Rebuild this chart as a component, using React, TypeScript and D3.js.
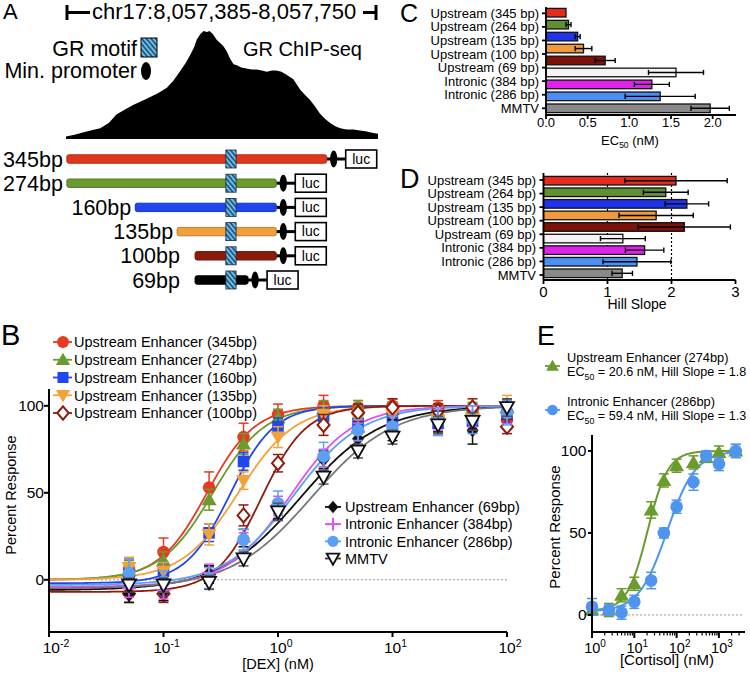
import React from "react";
import * as d3 from "d3";

const FONT = "'Liberation Sans', Arial, Helvetica, sans-serif";

// ---------- Panel A data ----------
const regionLabel = "chr17:8,057,385-8,057,750";
const regionLength = 365;
const chipPos = [0, 10, 24, 40, 50, 59, 70, 79, 90, 98, 108, 118, 126, 133, 140, 145, 150, 153, 157, 161, 165, 168, 172, 176, 180, 184, 188, 192, 196, 200, 205, 211, 217, 223, 229, 235, 241, 246, 252, 258, 262, 266, 270, 274, 280, 285, 291, 297, 303, 309, 315, 321, 328, 336, 344, 352, 358, 365];
const chipSignal = [1.5, 3, 6, 9, 14, 22, 27, 31, 35, 38, 42, 47, 54, 62, 70, 77, 85, 92, 97, 100, 99, 100, 97, 92, 89, 86, 81, 74, 69, 68, 66, 65, 64, 64, 63, 62, 63, 63, 62, 59, 57, 55, 50, 45, 40, 36, 30, 23, 18, 14, 11, 9, 8, 8, 7, 6, 5, 4];
const constructNames = ["345bp", "274bp", "160bp", "135bp", "100bp", "69bp"];
const constructStart = [1, 1, 81, 130, 151, 151];
const constructEnd = [305, 246, 246, 246, 246, 213];
const constructColors = ["#e2361c", "#6c9a2e", "#1f45ee", "#f0a03a", "#8a1c0c", "#000000"];
const motifRange = [187, 199];

// ---------- Panel B data ----------
const doseB = [0.05, 0.1, 0.25, 0.5, 1, 2.5, 5, 10, 25, 50, 100];
const namesB = ["Upstream Enhancer (345bp)", "Upstream Enhancer (274bp)", "Upstream Enhancer (160bp)", "Upstream Enhancer (135bp)", "Upstream Enhancer (100bp)", "Upstream Enhancer (69bp)", "Intronic Enhancer (384bp)", "Intronic Enhancer (286bp)", "MMTV"];
const colorsB = ["#e63a22", "#6a9b2c", "#2246ee", "#f2a23a", "#8e1b0e", "#111111", "#dd55ee", "#5aa0f5", "#777777"];
const markersB = ["circle", "triUp", "square", "triDown", "diamondOpen", "diamond", "plus", "circle", "triDownOpen"];
const b345 = [6, 16, 53, 82, 95, 100, 99, 100, 99, 97, 92];
const b274 = [5, 11, 46, 78, 93, 98, 99, 98, 96, 98, 99];
const b160 = [3, 5, 27, 68, 88, 94, 90, 93, 90, 91, 95];
const b135 = [7, 5, 26, 57, 82, 95, 93, 95, 92, 93, 99];
const b100 = [-8, -8, 3, 37, 67, 89, 96, 99, 97, 99, 88];
const b69 = [-8, -7, 3, 24, 40, 69, 81, 86, 91, 86, 97];
const bI384 = [-5, -6, 4, 22, 43, 70, 85, 89, 92, 94, 96];
const bI286 = [4, -1, 1, 23, 44, 71, 86, 88, 91, 92, 96];
const bMMTV = [-3, -3, -1.5, 12, 39, 59, 74, 82, 89, 91, 99];
const e345 = [6, 8, 9, 8, 6, 6, 4, 4, 4, 4, 5];
const e274 = [6, 5, 6, 6, 5, 5, 4, 4, 5, 4, 4];
const e160 = [5, 5, 5, 5, 5, 5, 6, 6, 7, 6, 6];
const e135 = [6, 5, 6, 5, 6, 5, 5, 5, 7, 8, 7];
const e100 = [5, 5, 5, 6, 5, 6, 5, 5, 4, 5, 4];
const e69 = [5, 5, 5, 5, 5, 5, 5, 6, 6, 8, 7];
const eI384 = [5, 5, 5, 5, 5, 5, 5, 5, 6, 6, 6];
const eI286 = [8, 6, 6, 6, 7, 8, 6, 6, 8, 8, 7];
const eMMTV = [4, 4, 4, 4, 5, 4, 4, 4, 5, 5, 5];
const bottomB = [0, 0, -2, 0, -7, -6, -4, -3, -5];
const topB = 100;

// ---------- Panel C / D data ----------
const barLabels = ["Upstream (345 bp)", "Upstream (264 bp)", "Upstream (135 bp)", "Upstream (100 bp)", "Upstream (69 bp)", "Intronic (384 bp)", "Intronic (286 bp)", "MMTV"];
const barColors = ["#e52b1c", "#5f9132", "#1f34ea", "#f09a3c", "#7d1208", "#f4f4f4", "#e023ea", "#4b8ff2", "#8a8a8a"];
const ec50 = [0.24, 0.27, 0.38, 0.45, 0.71, 1.56, 1.27, 1.37, 1.97];
const ec50Err = [0.0, 0.03, 0.03, 0.1, 0.12, 0.33, 0.21, 0.42, 0.23];
const hill = [2.07, 1.91, 2.24, 1.76, 2.2, 1.24, 1.58, 1.46, 1.23];
const hillErr = [0.8, 0.35, 0.34, 0.58, 0.72, 0.35, 0.3, 0.53, 0.16];
const ec50Ticks = [0, 0.5, 1, 1.5, 2];
const hillTicks = [0, 1, 2, 3];
const hillRefLines = [1, 2];

// ---------- Panel E data ----------
const doseE = [1, 2.5, 5, 10, 25, 50, 100, 250, 500, 1000, 2500];
const eUp274 = [3, 3, 12, 19, 64, 82, 91, 93, 96, 99, 100];
const eUp274Err = [3, 4, 4, 4, 5, 4, 4, 4, 3, 4, 4];
const eIn286 = [5, 3, 1.4, 8, 21, 50, 66, 81, 97, 92, 100];
const eIn286Err = [5, 3, 4, 4, 5, 3, 4, 5, 3, 4, 4];
const namesE = ["Upstream Enhancer (274bp)", "Intronic Enhancer (286bp)"];
const colorsE = ["#6a9b2c", "#4f95f0"];
const ec50E = [20.6, 59.4];
const hillE = [1.8, 1.3];
const bottomE = [2.5, 2];

const hillFn = (x: number, bottom: number, top: number, ec: number, h: number) =>
  bottom + (top - bottom) / (1 + Math.pow(ec / x, h));

function Marker({ type, color, x, y, s = 1 }: any) {
  const k = s;
  switch (type) {
    case "circle":
      return <circle cx={x} cy={y} r={6.3 * k} fill={color} />;
    case "triUp":
      return <path d={`M${x},${y - 7.5 * k}L${x + 7.5 * k},${y + 5.5 * k}L${x - 7.5 * k},${y + 5.5 * k}Z`} fill={color} />;
    case "square":
      return <rect x={x - 5.8 * k} y={y - 5.8 * k} width={11.6 * k} height={11.6 * k} fill={color} />;
    case "triDown":
      return <path d={`M${x},${y + 7.5 * k}L${x + 7.5 * k},${y - 5.5 * k}L${x - 7.5 * k},${y - 5.5 * k}Z`} fill={color} />;
    case "diamondOpen":
      return <path d={`M${x},${y - 7 * k}L${x + 6 * k},${y}L${x},${y + 7 * k}L${x - 6 * k},${y}Z`} fill="#fff" stroke={color} strokeWidth={2} />;
    case "diamond":
      return <path d={`M${x},${y - 7 * k}L${x + 6 * k},${y}L${x},${y + 7 * k}L${x - 6 * k},${y}Z`} fill={color} />;
    case "plus":
      return (
        <g stroke={color} strokeWidth={2}>
          <line x1={x - 7 * k} x2={x + 7 * k} y1={y} y2={y} />
          <line x1={x} x2={x} y1={y - 7 * k} y2={y + 7 * k} />
        </g>
      );
    case "triDownOpen":
      return <path d={`M${x},${y + 7 * k}L${x + 7 * k},${y - 5.5 * k}L${x - 7 * k},${y - 5.5 * k}Z`} fill="#fff" stroke="#111" strokeWidth={1.8} />;
    default:
      return null;
  }
}

function PanelA() {
  const x = d3.scaleLinear().domain([0, regionLength]).range([66, 378]);
  const y = d3.scaleLinear().domain([0, 100]).range([138, 31]);
  const area = d3.area<number>()
    .x((_, i) => x(chipPos[i]))
    .y0(139)
    .y1((d) => y(d));
  const rowY = d3.scalePoint<string>().domain(constructNames).range([159, 280]);
  return (
    <g fontFamily={FONT}>
      <defs>
        <pattern id="hatch" width={3.6} height={3.6} patternUnits="userSpaceOnUse" patternTransform="rotate(-40)">
          <rect width={3.6} height={3.6} fill="#6cc0ea" />
          <line x1={0.9} x2={0.9} y1={0} y2={3.6} stroke="#163a60" strokeWidth={1.4} />
        </pattern>
      </defs>
      <text x={3} y={19} fontSize={22}>A</text>
      <g stroke="#000" strokeWidth={3}>
        <line x1={x(0) + 1} x2={x(0) + 1} y1={5} y2={20} />
        <line x1={x(0) + 1} x2={90} y1={12.5} y2={12.5} />
        <line x1={363} x2={376} y1={12.5} y2={12.5} />
        <line x1={376} x2={376} y1={5} y2={20} />
      </g>
      <text x={92} y={19} fontSize={22}>{regionLabel}</text>
      <path d={area(chipSignal) || ""} fill="#000" />
      <text x={137} y={56} fontSize={21.5} textAnchor="end">GR motif</text>
      <rect x={141} y={38} width={16} height={19} fill="url(#hatch)" stroke="#000" strokeWidth={1} />
      <text x={137} y={78} fontSize={21.5} textAnchor="end">Min. promoter</text>
      <ellipse cx={146} cy={71} rx={5} ry={9} fill="#000" />
      <text x={243} y={56} fontSize={20}>GR ChIP-seq</text>
      {constructNames.map((n, i) => {
        const cy = rowY(n) as number;
        const x0 = x(constructStart[i]);
        const x1 = x(constructEnd[i]);
        const c = constructColors[i];
        const labelX = Math.min(x0 - 4, 180);
        const boxX = x1 + 19;
        return (
          <g key={n}>
            <text x={labelX} y={cy + 7.5} fontSize={21.5} textAnchor="end">{n}</text>
            <line x1={x1} x2={boxX} y1={cy} y2={cy} stroke="#000" strokeWidth={3} />
            <rect x={x0} y={cy - 4.2} width={x1 - x0} height={8.4} rx={2} fill={c}
              stroke={d3.color(c)!.darker(0.7).toString()} strokeWidth={1} />
            <rect x={x(motifRange[0])} y={cy - 9} width={x(motifRange[1]) - x(motifRange[0])} height={18}
              fill="url(#hatch)" stroke="#1a2a3a" strokeWidth={0.8} />
            <ellipse cx={x1 + 7} cy={cy} rx={3.6} ry={8.5} fill="#000" />
            <rect x={boxX} y={cy - 9} width={31} height={18} fill="#fff" stroke="#000" strokeWidth={1.6} />
            <text x={boxX + 15.5} y={cy + 4.8} fontSize={14} textAnchor="middle">luc</text>
          </g>
        );
      })}
    </g>
  );
}

function PanelB() {
  const x = d3.scaleLog().domain([0.01, 100]).range([49, 507]);
  const y = d3.scaleLinear().domain([-30, 110]).range([632, 388.4]);
  const vals = [b345, b274, b160, b135, b100, b69, bI384, bI286, bMMTV];
  const errs = [e345, e274, e160, e135, e100, e69, eI384, eI286, eMMTV];
  const samples = d3.range(0, 241).map((i) => Math.pow(10, -2 + (4 * i) / 240));
  const decades = [0.01, 0.1, 1, 10, 100];
  const exps = ["-2", "-1", "0", "1", "2"];
  const legend1 = [0, 1, 2, 3, 4];
  const legend2 = [5, 6, 7, 8];
  const leg1Y = d3.scalePoint<number>().domain(legend1).range([342, 413]);
  const leg2Y = d3.scalePoint<number>().domain(legend2).range([507, 558.5]);
  return (
    <g fontFamily={FONT}>
      <text x={1} y={345} fontSize={29}>B</text>
      <line x1={49} x2={507} y1={y(0)} y2={y(0)} stroke="#999" strokeWidth={1} strokeDasharray="2,2" />
      {vals.map((v, si) => {
        const pts = samples.map((s) => y(hillFn(s, bottomB[si], topB, ec50[si], hill[si])));
        const path = d3.line<number>().x((_, i) => x(samples[i])).y((d) => d)(pts) || "";
        return <path key={si} d={path} fill="none" stroke={colorsB[si]} strokeWidth={1.8} />;
      })}
      {vals.map((v, si) => (
        <g key={si}>
          {v.map((val, i) => {
            const cx = x(doseB[i]);
            const ec = si === 8 ? "#555" : colorsB[si];
            return (
              <g key={i} stroke={ec} strokeWidth={1.5}>
                <line x1={cx} x2={cx} y1={y(val - errs[si][i])} y2={y(val + errs[si][i])} />
                <line x1={cx - 5} x2={cx + 5} y1={y(val + errs[si][i])} y2={y(val + errs[si][i])} />
                <line x1={cx - 5} x2={cx + 5} y1={y(val - errs[si][i])} y2={y(val - errs[si][i])} />
              </g>
            );
          })}
          {v.map((val, i) => (
            <Marker key={"m" + i} type={markersB[si]} color={colorsB[si]} x={x(doseB[i])} y={y(val)} />
          ))}
        </g>
      ))}
      <g stroke="#000" strokeWidth={2}>
        <line x1={49} x2={49} y1={389} y2={633} />
        <line x1={48} x2={507} y1={632} y2={632} />
        {[0, 50, 100].map((t) => <line key={t} x1={44} x2={49} y1={y(t)} y2={y(t)} />)}
        {decades.map((d) => <line key={d} x1={x(d)} x2={x(d)} y1={632} y2={637} />)}
      </g>
      {[0, 50, 100].map((t) => (
        <text key={t} x={44} y={y(t) + 5.5} fontSize={15.5} textAnchor="end">{t}</text>
      ))}
      {decades.map((d, i) => (
        <text key={d} x={i === 0 ? x(d) + 7 : x(d) + 3} y={653} fontSize={15.5} textAnchor="middle">
          10<tspan dy={-6} fontSize={10.5}>{exps[i]}</tspan>
        </text>
      ))}
      <text x={278} y={669} fontSize={14.5} textAnchor="middle">[DEX] (nM)</text>
      <text transform="translate(16,495) rotate(-90)" fontSize={14.5} textAnchor="middle">Percent Response</text>
      {legend1.map((si) => {
        const ly = leg1Y(si) as number;
        return (
          <g key={si}>
            <line x1={53} x2={72} y1={ly} y2={ly} stroke={colorsB[si]} strokeWidth={1.8} />
            <Marker type={markersB[si]} color={colorsB[si]} x={63} y={ly} s={0.95} />
            <text x={74} y={ly + 5.3} fontSize={14.5}>{namesB[si]}</text>
          </g>
        );
      })}
      {legend2.map((si) => {
        const ly = leg2Y(si) as number;
        return (
          <g key={si}>
            <line x1={325} x2={341} y1={ly} y2={ly} stroke={si === 8 ? "#333" : colorsB[si]} strokeWidth={1.8} />
            <Marker type={markersB[si]} color={colorsB[si]} x={333} y={ly} s={0.9} />
            <text x={345} y={ly + 5.3} fontSize={14.5}>{namesB[si]}</text>
          </g>
        );
      })}
    </g>
  );
}

function BarPanel({ values, errs, xMax, x0, x1, axisY, topY, barRange, labelRange, ticks, tickFmt, tickSize, title, refLines, labelEnd, tickY }: any) {
  const x = d3.scaleLinear().domain([0, xMax]).range([x0, x1]);
  const barY = d3.scalePoint<number>().domain(d3.range(values.length)).range(barRange);
  const labY = d3.scalePoint<string>().domain(barLabels).range(labelRange);
  const bh = 8.6;
  return (
    <g fontFamily={FONT}>
      {refLines.map((r: number) => (
        <line key={r} x1={x(r)} x2={x(r)} y1={topY} y2={axisY} stroke="#000" strokeWidth={1.2} strokeDasharray="2,2" />
      ))}
      {values.map((v: number, i: number) => {
        const cy = barY(i) as number;
        return (
          <rect key={i} x={x(0)} y={cy - bh / 2} width={x(v) - x(0)} height={bh} fill={barColors[i]} stroke="#111" strokeWidth={1.3} />
        );
      })}
      {values.map((v: number, i: number) => {
        const cy = barY(i) as number;
        const e = errs[i];
        if (e <= 0) return null;
        return (
          <g key={"e" + i} stroke="#000" strokeWidth={1.4}>
            <line x1={x(v - e)} x2={x(v + e)} y1={cy} y2={cy} />
            <line x1={x(v - e)} x2={x(v - e)} y1={cy - 2.6} y2={cy + 2.6} />
            <line x1={x(v + e)} x2={x(v + e)} y1={cy - 2.6} y2={cy + 2.6} />
          </g>
        );
      })}
      <g stroke="#000" strokeWidth={1.8}>
        <line x1={x0} x2={x0} y1={topY} y2={axisY} />
        <line x1={x0} x2={x1} y1={axisY} y2={axisY} />
        {barLabels.map((l) => <line key={l} x1={x0 - 4} x2={x0} y1={labY(l)!} y2={labY(l)!} />)}
        {ticks.map((t: number) => <line key={t} x1={x(t)} x2={x(t)} y1={axisY} y2={axisY + 4} />)}
      </g>
      {barLabels.map((l) => (
        <text key={l} x={labelEnd} y={(labY(l) as number) + 4.6} fontSize={13} textAnchor="end">{l}</text>
      ))}
      {ticks.map((t: number) => (
        <text key={t} x={x(t)} y={tickY} fontSize={tickSize} textAnchor="middle">{tickFmt(t)}</text>
      ))}
      {title}
    </g>
  );
}

function PanelC() {
  return (
    <g>
      <text x={400} y={22} fontSize={25} fontFamily={FONT}>C</text>
      <BarPanel values={ec50} errs={ec50Err} xMax={2.28} x0={546} x1={736} axisY={115} topY={7}
        barRange={[12.7, 108.3]} labelRange={[13.3, 108.3]} ticks={ec50Ticks} tickFmt={d3.format(".1f")}
        tickSize={13} refLines={[]} labelEnd={539} tickY={127}
        title={
          <text x={630} y={145} fontSize={13} textAnchor="middle">
            EC<tspan fontSize={8.5} dy={3}>50</tspan><tspan dy={-3}> (nM)</tspan>
          </text>
        } />
    </g>
  );
}

function PanelD() {
  return (
    <g>
      <text x={400} y={188} fontSize={27} fontFamily={FONT}>D</text>
      <BarPanel values={hill} errs={hillErr} xMax={3} x0={543.5} x1={735.5} axisY={280} topY={173}
        barRange={[180.7, 273.3]} labelRange={[180, 275]} ticks={hillTicks} tickFmt={d3.format("d")}
        tickSize={15} refLines={hillRefLines} labelEnd={536} tickY={297}
        title={<text x={637} y={309} fontSize={14} textAnchor="middle">Hill Slope</text>} />
    </g>
  );
}

function PanelE() {
  const x = d3.scaleLog().domain([1, 3981]).range([592, 744.3]);
  const y = d3.scaleLinear().domain([-10.4, 109.6]).range([632, 435.2]);
  const vals = [eUp274, eIn286];
  const errs = [eUp274Err, eIn286Err];
  const markers = ["triUp", "circle"];
  const samples = d3.range(0, 201).map((i) => Math.pow(10, (3.45 * i) / 200));
  const decades = [1, 10, 100, 1000];
  const minors: number[] = [];
  decades.forEach((d) => d3.range(2, 10).forEach((m) => { if (d * m <= 3981) minors.push(d * m); }));
  const exps = ["0", "1", "2", "3"];
  const legY = [366, 410];
  const textY = [[361.5, 376], [405.5, 420]];
  return (
    <g fontFamily={FONT}>
      <text x={537} y={345} fontSize={27}>E</text>
      {namesE.map((n, i) => (
        <g key={n}>
          <line x1={545} x2={560} y1={legY[i]} y2={legY[i]} stroke={colorsE[i]} strokeWidth={1.8} />
          <Marker type={markers[i]} color={colorsE[i]} x={552.5} y={legY[i]} s={0.85} />
          <text x={567} y={textY[i][0]} fontSize={12.8}>{n}</text>
          <text x={567} y={textY[i][1]} fontSize={12.6}>
            EC<tspan fontSize={8.8} dy={3.5}>50</tspan>
            <tspan dy={-3.5}>{` = ${ec50E[i].toFixed(1)} nM, Hill Slope = ${hillE[i].toFixed(1)}`}</tspan>
          </text>
        </g>
      ))}
      <line x1={592} x2={744} y1={y(0)} y2={y(0)} stroke="#999" strokeWidth={1} strokeDasharray="2,2" />
      {vals.map((v, si) => {
        const path = d3.line<number>().x((d) => x(d)).y((d) => y(hillFn(d, bottomE[si], 100, ec50E[si], hillE[si])))(samples) || "";
        return <path key={si} d={path} fill="none" stroke={colorsE[si]} strokeWidth={2} />;
      })}
      {vals.map((v, si) => (
        <g key={"p" + si}>
          {v.map((val, i) => {
            const cx = x(doseE[i]);
            const e = errs[si][i];
            return (
              <g key={i} stroke={colorsE[si]} strokeWidth={1.5}>
                <line x1={cx} x2={cx} y1={y(val - e)} y2={y(val + e)} />
                <line x1={cx - 5} x2={cx + 5} y1={y(val + e)} y2={y(val + e)} />
                <line x1={cx - 5} x2={cx + 5} y1={y(val - e)} y2={y(val - e)} />
              </g>
            );
          })}
          {v.map((val, i) => (
            <Marker key={"m" + i} type={markers[si]} color={colorsE[si]} x={x(doseE[i])} y={y(val)} />
          ))}
        </g>
      ))}
      <g stroke="#000" strokeWidth={2}>
        <line x1={592} x2={592} y1={435} y2={633} />
        <line x1={591} x2={745} y1={632} y2={632} />
        {[0, 50, 100].map((t) => <line key={t} x1={588} x2={592} y1={y(t)} y2={y(t)} />)}
        {decades.map((d) => <line key={d} x1={x(d)} x2={x(d)} y1={632} y2={638} />)}
      </g>
      <g stroke="#000" strokeWidth={1.2}>
        {minors.map((d) => <line key={d} x1={x(d)} x2={x(d)} y1={632} y2={635.5} />)}
      </g>
      {[0, 50, 100].map((t) => (
        <text key={t} x={586.5} y={y(t) + 5.5} fontSize={15.5} textAnchor="end">{t}</text>
      ))}
      {decades.map((d, i) => (
        <text key={d} x={x(d) + 3} y={653} fontSize={14.5} textAnchor="middle">
          10<tspan dy={-6} fontSize={10}>{exps[i]}</tspan>
        </text>
      ))}
      <text x={667} y={665} fontSize={15} textAnchor="middle">[Cortisol] (nM)</text>
      <text transform="translate(560,527) rotate(-90)" fontSize={15} textAnchor="middle">Percent Response</text>
    </g>
  );
}

export default function App() {
  return (
    <svg width={750} height={677} viewBox="0 0 750 677" style={{ position: "absolute", left: 0, top: 0, background: "#fff" }}>
      <rect width={750} height={677} fill="#fff" />
      <PanelA />
      <PanelB />
      <PanelC />
      <PanelD />
      <PanelE />
    </svg>
  );
}
